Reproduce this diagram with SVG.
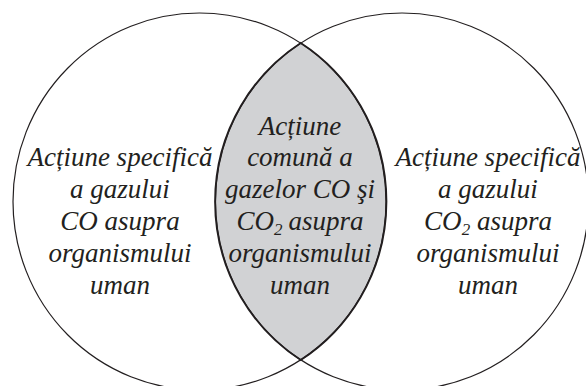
<svg xmlns="http://www.w3.org/2000/svg" width="586" height="386" viewBox="0 0 586 386">
  <style>
    .set { fill: none; stroke: #231f20; stroke-width: 1.2; }
    .lens { fill: #d1d2d4; stroke: #231f20; stroke-width: 1.8; }
    .lbl { font-family: "Liberation Serif", "Times New Roman", serif; font-style: italic; font-size: 27px; fill: #231f20; text-anchor: middle; }
    .sub { font-size: 17px; }
  </style>
  <rect width="586" height="386" fill="#ffffff"/>

  <!-- shared region of both sets -->
  <g id="intersection">
    <path class="lens" d="M300.75,42.9 A186.5,188.5 0 0 0 300.75,360.1 A186.5,188.5 0 0 0 300.75,42.9 Z"/>
    <text class="lbl" x="300" y="135">Acțiune</text>
    <text class="lbl" x="300" y="166">comună a</text>
    <text class="lbl" x="300" y="198">gazelor CO şi</text>
    <text class="lbl" x="300" y="230">CO<tspan class="sub" dy="5">2</tspan><tspan dx="6" dy="-5">asupra</tspan></text>
    <text class="lbl" x="300" y="262">organismului</text>
    <text class="lbl" x="300" y="294">uman</text>
  </g>

  <!-- CO set -->
  <g id="set-co">
    <ellipse class="set" cx="199.5" cy="201.5" rx="186.5" ry="188.5"/>
    <text class="lbl" x="120" y="166">Acțiune specifică</text>
    <text class="lbl" x="120" y="198">a gazului</text>
    <text class="lbl" x="120" y="230">CO asupra</text>
    <text class="lbl" x="120" y="262">organismului</text>
    <text class="lbl" x="120" y="294">uman</text>
  </g>

  <!-- CO2 set -->
  <g id="set-co2">
    <ellipse class="set" cx="402" cy="201.5" rx="186.5" ry="188.5"/>
    <text class="lbl" x="488" y="166">Acțiune specifică</text>
    <text class="lbl" x="488" y="198">a gazului</text>
    <text class="lbl" x="488" y="230">CO<tspan class="sub" dy="5">2</tspan><tspan dy="-5"> asupra</tspan></text>
    <text class="lbl" x="488" y="262">organismului</text>
    <text class="lbl" x="488" y="294">uman</text>
  </g>
</svg>
